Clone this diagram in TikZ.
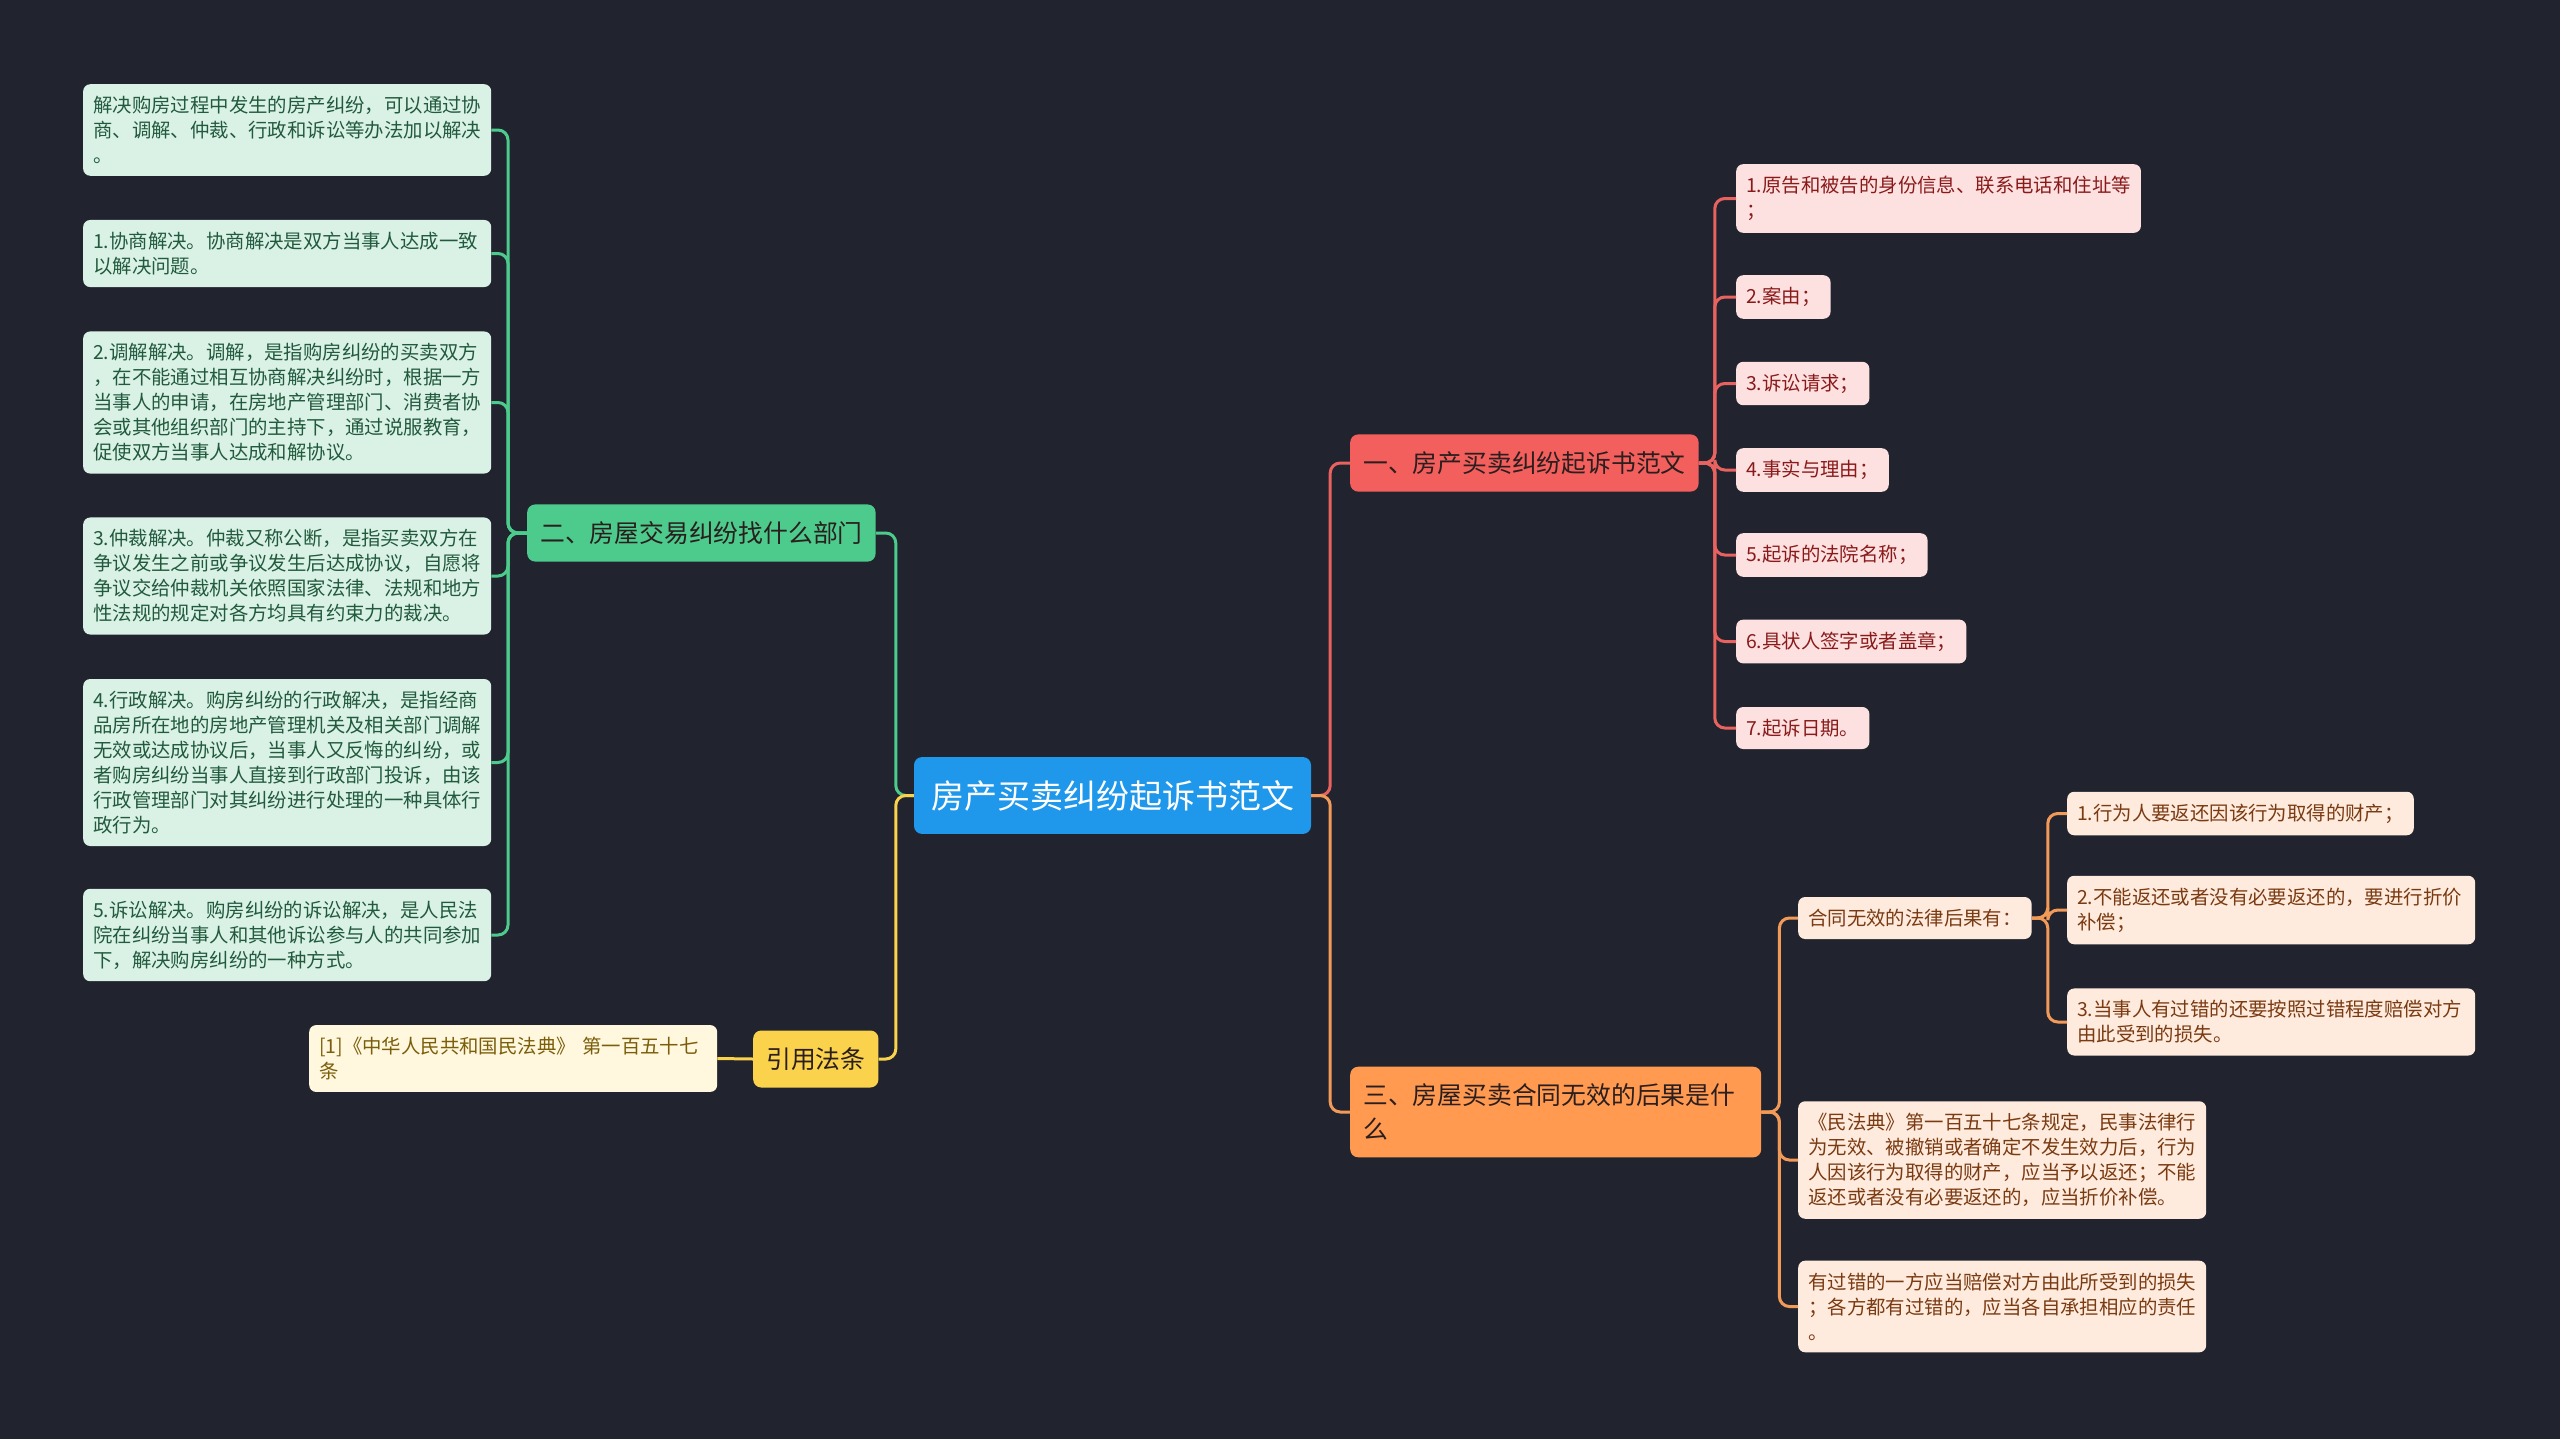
\documentclass[tikz,border=0pt]{standalone}
\usepackage{fontspec}
\setmainfont{Noto Sans CJK SC}
\usepackage{tikz}
\usetikzlibrary{positioning}

\definecolor{bgdark}{HTML}{21242F}
\definecolor{rootblue}{HTML}{1F97EA}
\definecolor{redtop}{HTML}{F25F5C}
\definecolor{redline}{HTML}{E8625F}
\definecolor{redbg}{HTML}{FDE1E1}
\definecolor{redtx}{HTML}{8A1A1A}
\definecolor{greentop}{HTML}{4CCB8C}
\definecolor{greenbg}{HTML}{DAF2E6}
\definecolor{greentx}{HTML}{225A3D}
\definecolor{yellowtop}{HTML}{FAD24C}
\definecolor{yellowbg}{HTML}{FFF7DE}
\definecolor{yellowtx}{HTML}{7A5E0A}
\definecolor{orangetop}{HTML}{FF9A50}
\definecolor{orangeline}{HTML}{F29A58}
\definecolor{orangebg}{HTML}{FEEBDD}
\definecolor{orangetx}{HTML}{7A3A12}
\definecolor{toptx}{HTML}{2A1E1E}

\begin{document}
\begin{tikzpicture}[x=1pt, y=-1pt,
    root/.style={fill=rootblue, text=white, rounded corners=8pt, inner xsep=17pt, inner ysep=23pt,
      font=\fontsize{33pt}{40pt}\selectfont},
    topic/.style={rounded corners=8pt, inner xsep=13pt, inner ysep=17pt, anchor=west, align=left,
      text=toptx, font=\fontsize{24.8pt}{34pt}\selectfont},
    leaf/.style={rounded corners=7pt, inner xsep=10pt, inner ysep=12pt, anchor=west, align=left,
      font=\fontsize{19.4pt}{25pt}\selectfont},
    longleaf/.style={leaf, text width=388pt},
    redleaf/.style={fill=redbg, text=redtx},
    greenleaf/.style={fill=greenbg, text=greentx},
    yellowleaf/.style={fill=yellowbg, text=yellowtx},
    orangeleaf/.style={fill=orangebg, text=orangetx},
    link/.style={line width=3pt, rounded corners=10pt}]

    % background
    \useasboundingbox (0,0) rectangle (2560,1438);
    \fill[bgdark] (-20,-20) rectangle (2580,1458);

    % centre
    \node[root] (root) at (1112.5,795.5) {房产买卖纠纷起诉书范文};

    % main topics
    \node[topic, fill=redtop] (suit) at (1350,463) {一、房产买卖纠纷起诉书范文};
    \node[topic, fill=greentop] (dept) at (527,533) {二、房屋交易纠纷找什么部门};
    \node[topic, fill=yellowtop] (law) at (753,1059) {引用法条};
    \node[topic, fill=orangetop, text width=385pt] (invalid) at (1350,1112) {三、房屋买卖合同无效的后果是什\\么};

    % suit items
    \node[leaf, redleaf] (suit1) at (1736,198.5) {1.原告和被告的身份信息、联系电话和住址等\\；};
    \node[leaf, redleaf] (suit2) at (1736,297) {2.案由；};
    \node[leaf, redleaf] (suit3) at (1736,383.5) {3.诉讼请求；};
    \node[leaf, redleaf] (suit4) at (1736,470) {4.事实与理由；};
    \node[leaf, redleaf] (suit5) at (1736,555) {5.起诉的法院名称；};
    \node[leaf, redleaf] (suit6) at (1736,641.5) {6.具状人签字或者盖章；};
    \node[leaf, redleaf] (suit7) at (1736,728) {7.起诉日期。};

    % dept items
    \node[longleaf, greenleaf] (dept0) at (83,130) {解决购房过程中发生的房产纠纷，可以通过协\\商、调解、仲裁、行政和诉讼等办法加以解决\\。};
    \node[longleaf, greenleaf] (dept1) at (83,253.5) {1.协商解决。协商解决是双方当事人达成一致\\以解决问题。};
    \node[longleaf, greenleaf] (dept2) at (83,402.5) {2.调解解决。调解，是指购房纠纷的买卖双方\\，在不能通过相互协商解决纠纷时，根据一方\\当事人的申请，在房地产管理部门、消费者协\\会或其他组织部门的主持下，通过说服教育，\\促使双方当事人达成和解协议。};
    \node[longleaf, greenleaf] (dept3) at (83,576) {3.仲裁解决。仲裁又称公断，是指买卖双方在\\争议发生之前或争议发生后达成协议，自愿将\\争议交给仲裁机关依照国家法律、法规和地方\\性法规的规定对各方均具有约束力的裁决。};
    \node[longleaf, greenleaf] (dept4) at (83,762.5) {4.行政解决。购房纠纷的行政解决，是指经商\\品房所在地的房地产管理机关及相关部门调解\\无效或达成协议后，当事人又反悔的纠纷，或\\者购房纠纷当事人直接到行政部门投诉，由该\\行政管理部门对其纠纷进行处理的一种具体行\\政行为。};
    \node[longleaf, greenleaf] (dept5) at (83,935) {5.诉讼解决。购房纠纷的诉讼解决，是人民法\\院在纠纷当事人和其他诉讼参与人的共同参加\\下，解决购房纠纷的一种方式。};

    % law item
    \node[longleaf, yellowleaf] (lawref) at (309,1058.5) {[1]《中华人民共和国民法典》 第一百五十七\\条};

    % invalid items
    \node[leaf, orangeleaf] (inv1) at (1798,918) {合同无效的法律后果有：};
    \node[longleaf, orangeleaf] (inv2) at (1798,1160) {《民法典》第一百五十七条规定，民事法律行\\为无效、被撤销或者确定不发生效力后，行为\\人因该行为取得的财产，应当予以返还；不能\\返还或者没有必要返还的，应当折价补偿。};
    \node[longleaf, orangeleaf] (inv3) at (1798,1306.5) {有过错的一方应当赔偿对方由此所受到的损失\\；各方都有过错的，应当各自承担相应的责任\\。};
    \node[leaf, orangeleaf] (cons1) at (2067,813.5) {1.行为人要返还因该行为取得的财产；};
    \node[longleaf, orangeleaf] (cons2) at (2067,910) {2.不能返还或者没有必要返还的，要进行折价\\补偿；};
    \node[longleaf, orangeleaf] (cons3) at (2067,1022) {3.当事人有过错的还要按照过错程度赔偿对方\\由此受到的损失。};

    % connectors
    \draw[link, redline] (root.east) -- ++(19,0) |- (suit.west);
    \draw[link, orangeline] (root.east) -- ++(19,0) |- (invalid.west);
    \draw[link, greentop] (root.west) -- ++(-18,0) |- (dept.east);
    \draw[link, yellowtop] (root.west) -- ++(-18,0) |- (law.east);
    \foreach \i in {1,...,7}
        \draw[link, redline] (suit.east) -- ++(16,0) |- (suit\i.west);
    \foreach \i in {0,...,5}
        \draw[link, greentop] (dept.west) -- ++(-19,0) |- (dept\i.east);
    \draw[link, yellowtop] (law.west) -- (lawref.east);
    \foreach \i in {1,...,3}
        \draw[link, orangeline] (invalid.east) -- ++(18,0) |- (inv\i.west);
    \foreach \i in {1,...,3}
        \draw[link, orangeline] (inv1.east) -- ++(16,0) |- (cons\i.west);
\end{tikzpicture}
\end{document}
